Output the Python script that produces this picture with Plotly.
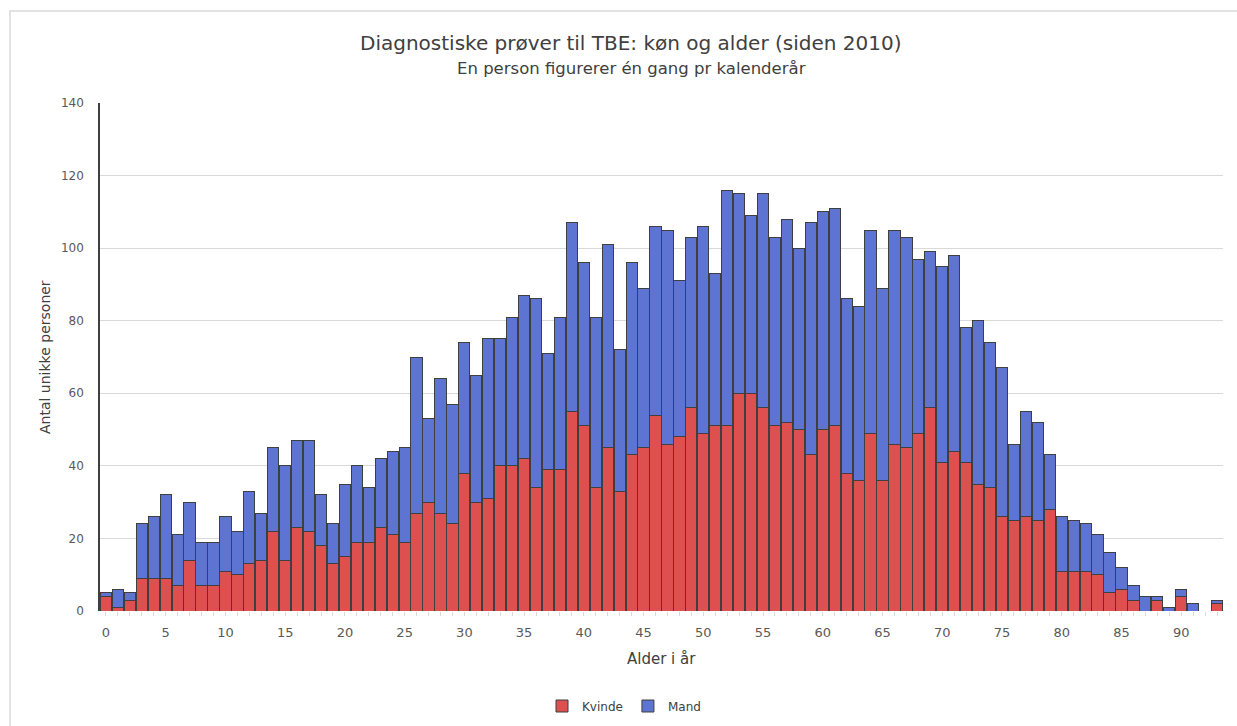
import plotly.graph_objects as go

ages = list(range(0, 94))

kvinde = [4, 1, 3, 9, 9, 9, 7, 14, 7, 7,
          11, 10, 13, 14, 22, 14, 23, 22, 18, 13,
          15, 19, 19, 23, 21, 19, 27, 30, 27, 24,
          38, 30, 31, 40, 40, 42, 34, 39, 39, 55,
          51, 34, 45, 33, 43, 45, 54, 46, 48, 56,
          49, 51, 51, 60, 60, 56, 51, 52, 50, 43,
          50, 51, 38, 36, 49, 36, 46, 45, 49, 56,
          41, 44, 41, 35, 34, 26, 25, 26, 25, 28,
          11, 11, 11, 10, 5, 6, 3, 0, 3, 0,
          4, 0, 0, 2]

mand = [1, 5, 2, 15, 17, 23, 14, 16, 12, 12,
        15, 12, 20, 13, 23, 26, 24, 25, 14, 11,
        20, 21, 15, 19, 23, 26, 43, 23, 37, 33,
        36, 35, 44, 35, 41, 45, 52, 32, 42, 52,
        45, 47, 56, 39, 53, 44, 52, 59, 43, 47,
        57, 42, 65, 55, 49, 59, 52, 56, 50, 64,
        60, 60, 48, 48, 56, 53, 59, 58, 48, 43,
        54, 54, 37, 45, 40, 41, 21, 29, 27, 15,
        15, 14, 13, 11, 11, 6, 4, 4, 1, 1,
        2, 2, 0, 1]

x_ticks = list(range(0, 91, 5))
y_ticks = list(range(0, 141, 20))

title_text = "Diagnostiske prøver til TBE: køn og alder (siden 2010)"
subtitle_text = "En person figurerer én gang pr kalenderår"
x_title = "Alder i år"
y_title = "Antal unikke personer"

FONT = "DejaVu Sans, sans-serif"
RED = "#DE5050"
BLUE = "#5E74D2"
EDGE = "#3F3F3F"
GRAY_TXT = "#595959"
DARK_TXT = "#404040"

def nz(vals):
    return [v if v != 0 else None for v in vals]

fig = go.Figure()
fig.add_trace(go.Bar(x=ages, y=nz(kvinde), name="Kvinde",
                     marker=dict(color=RED, line=dict(color=EDGE, width=1))))
fig.add_trace(go.Bar(x=ages, y=nz(mand), name="Mand",
                     marker=dict(color=BLUE, line=dict(color=EDGE, width=1))))

L, R, T, B = 100, 14, 103, 115
W, H = 1237, 726
pw = W - L - R
ph = H - T - B

def px_x(p):
    return (p - L) / pw

def px_y(p):
    return (H - B - p) / ph

fig.update_layout(
    width=W, height=H,
    barmode="stack",
    bargap=0.06,
    plot_bgcolor="white",
    paper_bgcolor="white",
    margin=dict(l=L, r=R, t=T, b=B, autoexpand=False),
    font=dict(family=FONT, color=GRAY_TXT, size=12),
    showlegend=True,
    legend=dict(orientation="h", xref="container", yref="container",
                x=624 / W, xanchor="center",
                y=1 - 706 / H, yanchor="middle",
                font=dict(family=FONT, size=12, color=DARK_TXT),
                itemwidth=30, traceorder="normal"),
    xaxis=dict(range=[-0.5, 93.5], tickmode="array", tickvals=x_ticks,
               ticktext=[str(v) for v in x_ticks],
               showgrid=False, zeroline=False, showline=False,
               ticks="outside", ticklen=4, tickcolor="#D9D9D9",
               minor=dict(dtick=1, tick0=0, ticks="outside", ticklen=4,
                          tickcolor="#D9D9D9", showgrid=False),
               tickfont=dict(size=13, color=GRAY_TXT, family=FONT),
               ticklabelstandoff=5),
    yaxis=dict(range=[0, 140], tickmode="array", tickvals=y_ticks,
               showgrid=True, gridcolor="#D9D9D9", gridwidth=1,
               zeroline=False, showline=True, linecolor=EDGE, linewidth=1.5,
               ticks="", tickfont=dict(size=12, color=GRAY_TXT, family=FONT),
               ticklabelstandoff=12),
    annotations=[
        dict(text=title_text, x=px_x(631), y=px_y(43), xref="paper", yref="paper",
             showarrow=False, xanchor="center", yanchor="middle",
             font=dict(size=20, color=DARK_TXT, family=FONT)),
        dict(text=subtitle_text, x=px_x(631), y=px_y(69), xref="paper", yref="paper",
             showarrow=False, xanchor="center", yanchor="middle",
             font=dict(size=16.5, color=DARK_TXT, family=FONT)),
        dict(text=x_title, x=0.5, y=px_y(659), xref="paper", yref="paper",
             showarrow=False, xanchor="center", yanchor="middle",
             font=dict(size=15, color=DARK_TXT, family=FONT)),
        dict(text=y_title, x=px_x(45), y=0.5, xref="paper", yref="paper",
             showarrow=False, xanchor="center", yanchor="middle", textangle=-90,
             font=dict(size=14, color=DARK_TXT, family=FONT)),
    ],
    shapes=[
        dict(type="rect", xref="paper", yref="paper",
             x0=px_x(10), x1=px_x(1260), y0=px_y(740), y1=px_y(11),
             line=dict(color="#D9D9D9", width=1.5), fillcolor="rgba(0,0,0,0)",
             layer="below"),
    ],
)

fig.write_html("out.html",
               config={"displayModeBar": False},
               post_script="document.body.style.margin='0';document.body.style.overflow='hidden';")
